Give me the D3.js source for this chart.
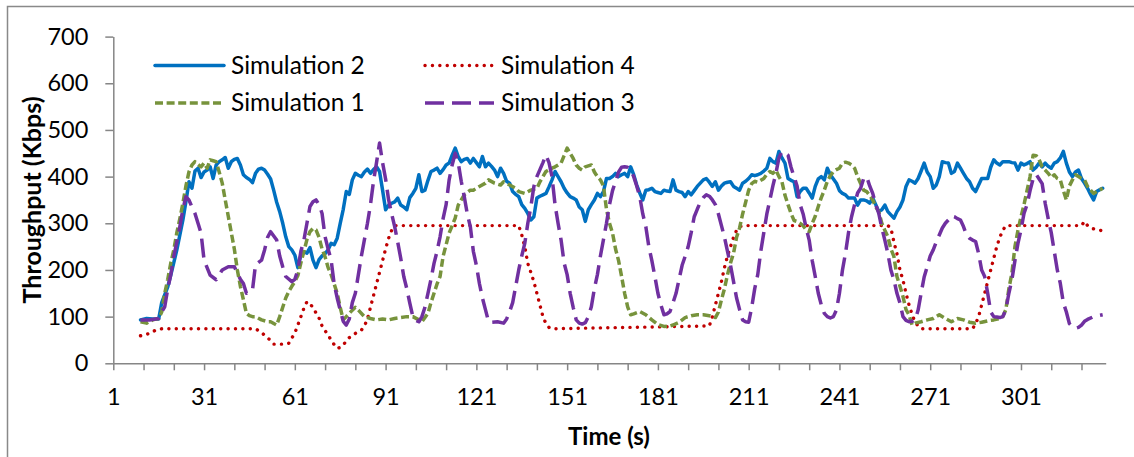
<!DOCTYPE html>
<html>
<head>
<meta charset="utf-8">
<script src="https://cdn.jsdelivr.net/npm/d3@7"></script>
<style>
  body { margin: 0; background: #fff; }
  text { font-family: Lato, "Open Sans", sans-serif; fill: #000; }
</style>
</head>
<body>
<script>
// ticks
const yTickValues = [0, 100, 200, 300, 400, 500, 600, 700];
const xTickMarks = [1, 11, 21, 31, 41, 51, 61, 71, 81, 91, 101, 111, 121, 131, 141, 151, 161, 171, 181, 191, 201, 211, 221, 231, 241, 251, 261, 271, 281, 291, 301, 311, 321];
const xTickLabels = [1, 31, 61, 91, 121, 151, 181, 211, 241, 271, 301];

// [time (s), throughput (Kbps)]
const sim2 = [[10,93],[12,96],[14,95],[16,95],[17,130],[19,164],[20,189],[22,243],[24,307],[25,346],[26,389],[27,375],[28,412],[29,418],[30,398],[31,410],[32,414],[33,421],[34,396],[35,425],[36,432],[37,436],[38,441],[39,418],[40,432],[41,437],[42,439],[43,425],[44,404],[45,398],[46,394],[47,387],[48,407],[49,416],[50,418],[51,414],[52,405],[53,395],[54,371],[55,345],[56,325],[57,300],[58,271],[59,250],[60,243],[61,232],[62,205],[63,232],[64,239],[65,236],[66,248],[67,221],[68,205],[69,222],[70,230],[71,235],[72,243],[73,257],[74,254],[75,268],[76,300],[77,330],[78,368],[79,362],[80,393],[81,407],[82,403],[83,400],[84,410],[85,416],[86,407],[87,415],[88,421],[89,411],[90,371],[91,329],[92,339],[93,343],[94,346],[95,354],[96,339],[97,335],[98,329],[99,355],[100,364],[101,375],[102,404],[103,368],[104,371],[105,392],[106,411],[107,414],[108,418],[109,407],[110,415],[111,425],[112,429],[113,446],[114,461],[115,443],[116,432],[117,437],[118,439],[119,429],[120,439],[121,430],[122,421],[123,443],[124,421],[125,429],[126,422],[127,414],[128,400],[129,418],[130,407],[131,390],[132,386],[133,368],[134,362],[135,357],[136,340],[137,332],[138,321],[139,307],[140,314],[141,354],[142,358],[143,361],[144,364],[145,378],[146,393],[147,411],[148,400],[149,389],[150,375],[151,365],[152,357],[153,354],[154,350],[155,335],[156,329],[157,304],[158,329],[159,340],[160,350],[161,364],[162,357],[163,368],[164,396],[165,396],[166,400],[167,407],[168,400],[169,404],[170,407],[171,400],[172,421],[173,404],[174,382],[175,365],[176,350],[177,371],[178,372],[179,375],[180,368],[181,366],[182,364],[183,371],[184,369],[185,368],[186,393],[187,371],[188,368],[189,366],[190,357],[191,368],[192,361],[193,370],[194,379],[195,386],[196,393],[197,396],[198,388],[199,379],[200,389],[201,371],[202,380],[203,386],[204,388],[205,389],[206,379],[207,375],[208,371],[209,386],[210,390],[211,396],[212,404],[213,402],[214,404],[215,407],[216,412],[217,418],[218,439],[219,432],[220,429],[221,454],[222,440],[223,429],[224,396],[225,392],[226,389],[227,357],[228,368],[229,375],[230,375],[231,365],[232,354],[233,379],[234,395],[235,400],[236,393],[237,418],[238,404],[239,395],[240,386],[241,370],[242,364],[243,361],[244,354],[245,354],[246,354],[247,339],[248,350],[249,350],[250,348],[251,343],[252,354],[253,340],[254,325],[255,329],[256,339],[257,325],[258,318],[259,311],[260,325],[261,335],[262,350],[263,379],[264,393],[265,390],[266,386],[267,396],[268,412],[269,429],[270,410],[271,400],[272,375],[273,382],[274,400],[275,432],[276,430],[277,429],[278,407],[279,411],[280,429],[281,418],[282,407],[283,396],[284,389],[285,375],[286,368],[287,382],[288,396],[289,396],[290,396],[291,420],[292,436],[293,429],[294,425],[295,432],[296,432],[297,432],[298,430],[299,429],[300,414],[301,429],[302,425],[303,428],[304,432],[305,414],[306,420],[307,429],[308,421],[309,429],[310,422],[311,418],[312,429],[313,432],[314,440],[315,454],[316,429],[317,410],[318,400],[319,410],[320,414],[321,396],[322,386],[323,375],[324,362],[325,350],[326,368],[327,372],[328,375]];

const sim4 = [[10,59],[13,64],[15,71],[17,74],[48,74],[50,66],[51,60],[53,49],[54,41],[58,41],[59,43],[60,54],[61,65],[62,82],[63,100],[64,118],[65,132],[66,128],[67,119],[68,108],[69,97],[70,80],[71,70],[72,60],[73,50],[74,40],[75,32],[76,34],[77,39],[78,48],[79,55],[81,64],[83,71],[84,80],[85,95],[86,120],[87,145],[88,170],[89,195],[90,220],[91,245],[92,268],[93,285],[94,295],[135,295],[136,275],[137,250],[138,214],[139,195],[140,175],[141,150],[142,125],[143,100],[144,85],[145,77],[146,74],[198,80],[199,100],[200,125],[201,150],[202,175],[203,205],[204,230],[205,250],[206,270],[207,285],[208,293],[209,295],[257,295],[258,290],[259,260],[260,235],[261,200],[262,178],[263,150],[264,125],[265,105],[266,88],[267,80],[268,74],[285,74],[286,85],[287,100],[288,125],[289,150],[290,175],[291,200],[292,225],[293,250],[294,270],[295,285],[296,295],[321,295],[322,304],[323,295],[324,290],[326,286],[328,284]];

const sim1 = [[10,89],[12,86],[14,93],[16,96],[17,110],[18,150],[19,180],[20,215],[21,243],[22,280],[23,310],[24,343],[25,380],[26,410],[27,425],[28,432],[29,426],[30,421],[31,429],[32,418],[33,436],[34,434],[35,432],[36,410],[37,386],[38,350],[39,315],[40,280],[41,245],[42,200],[43,165],[44,136],[45,107],[46,102],[47,100],[48,100],[50,93],[52,89],[53,89],[55,82],[56,100],[57,120],[58,140],[59,154],[60,165],[61,175],[62,188],[63,215],[64,240],[65,265],[66,282],[67,289],[68,286],[69,270],[70,245],[71,228],[72,205],[73,190],[74,170],[75,150],[76,120],[77,93],[78,100],[80,114],[81,120],[82,114],[84,100],[86,96],[88,93],[90,95],[92,93],[94,96],[96,98],[98,100],[100,100],[102,93],[103,89],[105,107],[106,130],[107,150],[108,170],[109,186],[110,229],[112,279],[114,311],[115,339],[117,361],[119,371],[120,371],[122,379],[124,386],[125,393],[127,386],[129,382],[130,389],[132,382],[134,375],[135,368],[137,364],[139,371],[141,375],[142,389],[144,411],[146,418],[147,421],[149,429],[150,445],[151,461],[152,450],[153,439],[154,425],[155,418],[156,414],[157,421],[159,425],[160,410],[161,400],[162,393],[163,380],[164,330],[165,300],[166,279],[167,245],[168,220],[169,186],[170,150],[171,121],[172,104],[173,106],[175,111],[177,104],[179,93],[181,83],[183,79],[185,80],[186,82],[188,88],[190,98],[192,102],[194,104],[196,104],[198,102],[200,98],[201,110],[202,136],[203,160],[204,190],[205,215],[206,236],[207,270],[208,290],[209,320],[210,345],[211,371],[212,385],[213,390],[214,388],[215,392],[216,396],[217,405],[218,411],[219,407],[220,414],[221,400],[222,389],[223,360],[224,340],[225,321],[226,306],[227,304],[228,300],[229,295],[230,286],[231,282],[232,300],[233,315],[234,336],[235,355],[236,371],[237,390],[238,402],[239,411],[240,415],[241,418],[242,429],[243,431],[244,429],[245,425],[246,418],[247,400],[248,385],[249,371],[250,368],[251,360],[252,350],[253,335],[254,325],[255,300],[256,285],[257,271],[258,245],[259,229],[260,186],[261,165],[262,143],[263,115],[264,104],[265,82],[266,86],[268,89],[270,93],[272,96],[274,104],[276,96],[278,89],[280,96],[282,93],[284,88],[286,86],[288,88],[290,91],[292,93],[294,96],[295,100],[296,115],[297,160],[298,193],[299,250],[300,285],[301,314],[302,340],[303,370],[304,400],[305,446],[306,445],[307,436],[308,421],[309,414],[310,407],[311,398],[312,404],[313,396],[314,393],[315,370],[316,350],[317,380],[318,393],[319,404],[320,400],[321,396],[322,393],[323,379],[324,371],[325,364],[326,368],[327,371],[328,375]];

const sim3 = [[10,93],[13,93],[16,96],[17,110],[18,121],[19,160],[20,190],[21,229],[22,260],[23,293],[24,330],[25,357],[26,350],[27,335],[28,321],[29,300],[30,279],[31,221],[32,205],[33,189],[35,179],[37,200],[39,207],[41,207],[43,180],[44,171],[45,150],[47,157],[48,211],[50,221],[51,243],[52,270],[53,282],[55,264],[56,230],[57,207],[58,186],[60,175],[61,180],[62,200],[63,240],[64,264],[65,300],[66,336],[67,346],[68,350],[69,340],[70,321],[71,271],[72,245],[73,221],[74,170],[75,140],[76,114],[77,90],[78,82],[79,95],[80,130],[81,150],[82,190],[83,230],[84,265],[85,300],[86,340],[87,390],[88,430],[89,472],[90,430],[91,395],[92,350],[93,320],[94,293],[95,260],[96,225],[97,186],[98,160],[99,129],[100,100],[101,92],[102,89],[103,100],[104,120],[105,150],[106,180],[107,214],[108,240],[109,271],[110,310],[111,340],[112,393],[113,425],[114,450],[115,430],[116,390],[117,357],[118,320],[119,293],[120,240],[121,210],[122,171],[123,140],[124,115],[125,90],[126,88],[128,89],[130,86],[131,95],[132,111],[133,130],[134,165],[135,200],[136,230],[137,257],[138,300],[139,335],[140,379],[141,400],[142,415],[143,430],[144,446],[145,430],[146,400],[147,340],[148,300],[149,264],[150,215],[151,190],[152,150],[153,120],[154,93],[155,86],[156,84],[157,87],[158,100],[159,121],[160,160],[161,190],[162,230],[163,265],[164,300],[165,340],[166,370],[167,390],[168,410],[169,420],[170,421],[171,420],[172,415],[173,400],[174,380],[175,357],[176,320],[177,293],[178,250],[179,220],[180,186],[181,150],[182,125],[183,104],[184,106],[185,111],[186,130],[187,150],[188,180],[189,210],[190,229],[191,250],[192,280],[193,314],[194,330],[195,345],[196,355],[197,361],[198,358],[199,350],[200,340],[201,320],[202,295],[203,270],[204,240],[205,210],[206,175],[207,140],[208,115],[209,93],[210,89],[211,88],[212,120],[213,160],[214,190],[215,240],[216,280],[217,320],[218,350],[219,380],[220,407],[221,440],[222,454],[223,450],[224,446],[225,420],[226,400],[227,380],[228,340],[229,320],[230,290],[231,264],[232,220],[233,186],[234,150],[235,125],[236,107],[237,100],[238,97],[239,100],[240,114],[241,150],[242,200],[243,236],[244,280],[245,314],[246,340],[247,365],[248,375],[249,396],[250,400],[251,380],[252,364],[253,340],[254,321],[255,290],[256,264],[257,235],[258,200],[259,179],[260,150],[261,129],[262,100],[263,92],[264,89],[265,90],[266,93],[267,114],[268,150],[269,185],[270,207],[271,230],[272,243],[273,260],[274,275],[275,290],[276,300],[277,307],[278,316],[279,314],[280,310],[281,307],[282,293],[283,275],[284,268],[285,264],[286,261],[287,235],[288,200],[289,186],[290,150],[291,110],[292,100],[293,99],[294,98],[295,100],[296,115],[297,150],[298,179],[299,220],[300,257],[301,286],[302,321],[303,340],[304,370],[305,395],[306,405],[307,395],[308,385],[309,343],[310,310],[311,280],[312,240],[313,200],[314,171],[315,130],[316,110],[317,85],[318,78],[319,75],[320,77],[321,82],[322,90],[323,94],[325,100],[328,104]];

const seriesNames = ["Simulation 2", "Simulation 4", "Simulation 1", "Simulation 3"];
const seriesData = [sim2, sim4, sim1, sim3];
const seriesColors = ["#0070C0", "#C00000", "#77933C", "#7030A0"];

const W = 1134, H = 457;
const svg = d3.select("body").append("svg").attr("width", W).attr("height", H);

// chart area border
svg.append("rect")
  .attr("x", 7.5).attr("y", 6.5).attr("width", W + 20).attr("height", H + 20)
  .attr("fill", "none").attr("stroke", "#898989").attr("stroke-width", 1.5);

const x = d3.scaleLinear().domain([1, 329]).range([113.3, 1105.7]);
const y = d3.scaleLinear().domain([0, 700]).range([363.3, 36.6]);

const styles = [
  { width: 3.5, dash: null, cap: "round" },
  { width: 3.4, dash: "0.1,7.3", cap: "round" },
  { width: 3.5, dash: "8,3.6", cap: "butt" },
  { width: 3.5, dash: "19,8", cap: "butt" }
];

// axes
const yAxis = svg.append("g").attr("transform", `translate(${x.range()[0]},0)`)
  .call(d3.axisLeft(y).tickValues(yTickValues).tickSize(8).tickSizeOuter(0).tickPadding(17));
const xAxis = svg.append("g").attr("transform", `translate(0,${y(0)})`)
  .call(d3.axisBottom(x).tickValues(xTickMarks).tickSize(7).tickSizeOuter(0)
    .tickFormat(d => xTickLabels.includes(d) ? d : ""));

[xAxis, yAxis].forEach(g => {
  g.select(".domain").attr("stroke", "#868686").attr("stroke-width", 1.5);
  g.selectAll(".tick line").attr("stroke", "#868686").attr("stroke-width", 1.5);
  g.selectAll(".tick text").attr("font-size", 23.5).attr("font-family", "Lato, sans-serif").attr("fill", "#000");
});
xAxis.selectAll(".tick text").attr("dy", null).attr("y", 42);

// lines
const line = d3.line().x(d => x(d[0])).y(d => y(d[1]));
seriesData.forEach((data, i) => {
  svg.append("path")
    .datum(data)
    .attr("d", line)
    .attr("fill", "none")
    .attr("stroke", seriesColors[i])
    .attr("stroke-width", styles[i].width)
    .attr("stroke-linejoin", "round")
    .attr("stroke-linecap", styles[i].cap)
    .attr("stroke-dasharray", styles[i].dash);
});

// legend (two columns, series order row by row)
const legendCols = [155, 425];
const legendRows = [65.5, 103];
seriesNames.forEach((name, i) => {
  const lx = legendCols[i % 2], ly = legendRows[Math.floor(i / 2)];
  const g = svg.append("g");
  g.append("line")
    .attr("x1", lx).attr("x2", lx + 69).attr("y1", ly).attr("y2", ly)
    .attr("stroke", seriesColors[i])
    .attr("stroke-width", styles[i].width)
    .attr("stroke-linecap", styles[i].cap)
    .attr("stroke-dasharray", styles[i].dash);
  g.append("text")
    .attr("x", lx + 76).attr("y", ly + 8)
    .attr("font-size", 24.5)
    .text(name);
});

// axis titles
svg.append("text")
  .attr("transform", `translate(31,${(y(0) + y(700)) / 2}) rotate(-90)`)
  .attr("text-anchor", "middle").attr("dominant-baseline", "central")
  .attr("font-size", 25).attr("font-weight", "bold")
  .text("Throughput (Kbps)");
svg.append("text")
  .attr("x", 609).attr("y", 445)
  .attr("text-anchor", "middle")
  .attr("font-size", 24).attr("font-weight", "bold")
  .text("Time (s)");
</script>
</body>
</html>
